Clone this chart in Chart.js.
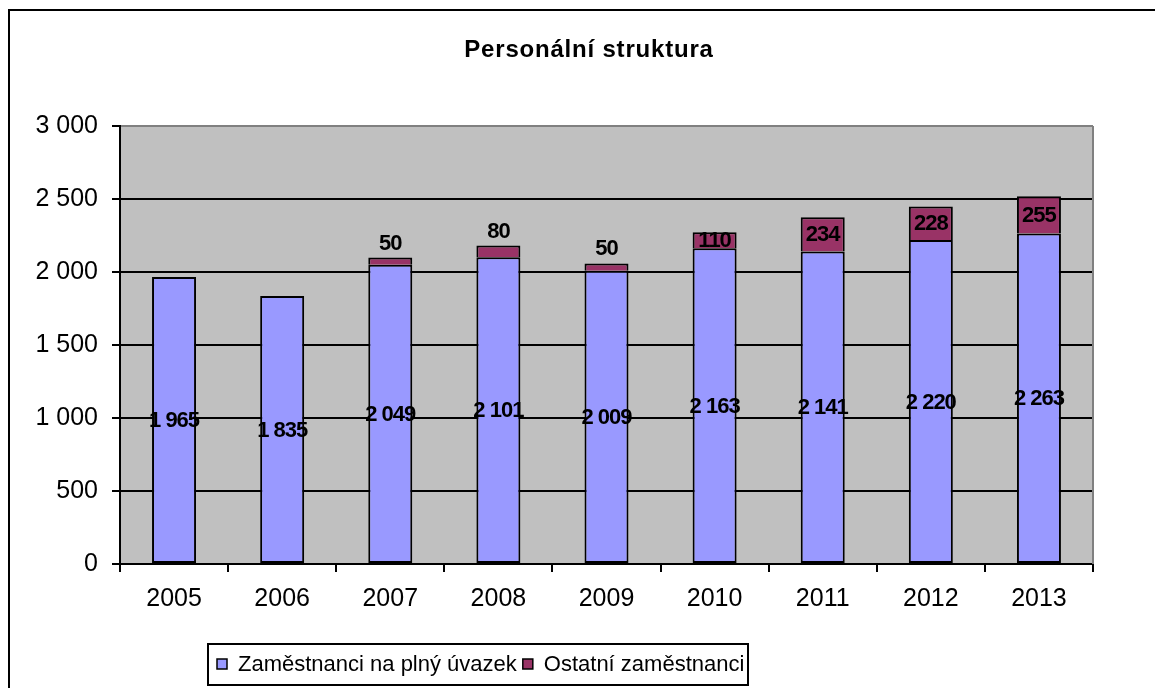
<!DOCTYPE html>
<html>
<head>
<meta charset="utf-8">
<title>Personální struktura</title>
<script src="https://cdn.jsdelivr.net/npm/chart.js@4"></script>
<style>
    body { margin: 0; background: #fff; }
    canvas { display: block; }
</style>
</head>
<body>
<canvas id="chart" width="1155" height="688"></canvas>
<script>
// data
const years = ['2005', '2006', '2007', '2008', '2009', '2010', '2011', '2012', '2013'];
const fullTime = [1965, 1835, 2049, 2101, 2009, 2163, 2141, 2220, 2263];
const others = [null, null, 50, 80, 50, 110, 234, 228, 255];
const seriesNames = ['Zaměstnanci na plný úvazek', 'Ostatní zaměstnanci'];
const yTicks = [0, 500, 1000, 1500, 2000, 2500, 3000];

const FONT = "'Liberation Sans', Arial, sans-serif";

// thousands with a space, like the Czech Excel format
function fmt(v) {
    return String(v).replace(/\B(?=(\d{3})+(?!\d))/g, ' ');
}

// white page, outer frame, grey plot area
const backdrop = {
    id: 'backdrop',
    beforeDraw(chart) {
        const { ctx, chartArea: a } = chart;
        ctx.save();
        ctx.fillStyle = '#fff';
        ctx.fillRect(0, 0, chart.width, chart.height);
        ctx.fillStyle = '#C0C0C0';
        ctx.fillRect(a.left, a.top, a.right - a.left, a.bottom - a.top);
        ctx.strokeStyle = '#000';
        ctx.lineWidth = 2;
        ctx.beginPath();
        ctx.moveTo(9, chart.height + 5);
        ctx.lineTo(9, 10);
        ctx.lineTo(chart.width + 5, 10);
        ctx.stroke();
        ctx.restore();
    },
    beforeDatasetsDraw(chart) {
        const { ctx, chartArea: a } = chart;
        ctx.save();
        ctx.strokeStyle = '#808080';
        ctx.lineWidth = 2;
        ctx.beginPath();
        ctx.moveTo(a.right, a.bottom);
        ctx.lineTo(a.right, a.top);
        ctx.stroke();
        ctx.restore();
    }
};

// title, value labels and the boxed legend at the bottom
const decorations = {
    id: 'decorations',
    afterDraw(chart) {
        const ctx = chart.ctx;
        ctx.save();

        // title
        ctx.fillStyle = '#000';
        ctx.font = 'bold 24px ' + FONT;
        ctx.letterSpacing = '0.8px';
        ctx.textAlign = 'center';
        ctx.textBaseline = 'middle';
        ctx.fillText('Personální struktura', 589, 50);

        // value labels
        ctx.font = 'bold 22px ' + FONT;
        ctx.letterSpacing = '-1px';
        chart.data.datasets.forEach((ds, i) => {
            chart.getDatasetMeta(i).data.forEach((bar, j) => {
                const v = ds.data[j];
                if (v == null) return;
                const h = Math.abs(bar.base - bar.y);
                let y = (bar.y + bar.base) / 2;
                if (h < 14) y = bar.y - 15;
                ctx.fillText(fmt(v), bar.x, y + 1);
            });
        });

        // legend
        ctx.letterSpacing = '0px';
        ctx.font = '22px ' + FONT;
        ctx.textAlign = 'left';
        ctx.lineWidth = 2;
        ctx.strokeStyle = '#000';
        ctx.strokeRect(208, 644, 540, 41);
        let x = 217;
        const cy = 664;
        chart.data.datasets.forEach((ds) => {
            ctx.fillStyle = ds.backgroundColor;
            ctx.fillRect(x, cy - 5, 10, 10);
            ctx.lineWidth = 1.5;
            ctx.strokeRect(x, cy - 5, 10, 10);
            ctx.fillStyle = '#000';
            ctx.fillText(ds.label, x + 21, cy + 1);
            x += 21 + ctx.measureText(ds.label).width + 6;
        });
        ctx.restore();
    }
};

new Chart(document.getElementById('chart'), {
    type: 'bar',
    data: {
        labels: years,
        datasets: [{
            label: seriesNames[0],
            data: fullTime,
            backgroundColor: '#9999FF',
            borderColor: '#000',
            borderWidth: 2,
            borderSkipped: false
        }, {
            label: seriesNames[1],
            data: others,
            backgroundColor: '#993366',
            borderColor: '#000',
            borderWidth: 2,
            borderSkipped: 'start'
        }]
    },
    options: {
        responsive: false,
        animation: false,
        devicePixelRatio: 1,
        layout: { padding: { left: 0, right: 62, top: 126, bottom: 0 } },
        datasets: { bar: { categoryPercentage: 1, barPercentage: 0.407 } },
        plugins: {
            legend: { display: false },
            title: { display: false },
            tooltip: { enabled: false }
        },
        scales: {
            x: {
                stacked: true,
                afterFit(scale) { scale.height = 124; },
                grid: {
                    offset: true,
                    drawOnChartArea: false,
                    tickLength: 8,
                    color: '#000',
                    lineWidth: 2
                },
                border: { color: '#000', width: 2 },
                ticks: {
                    color: '#000',
                    padding: 12,
                    font: { family: FONT, size: 25 }
                }
            },
            y: {
                stacked: true,
                min: yTicks[0],
                max: yTicks[yTicks.length - 1],
                afterFit(scale) { scale.width = 120; },
                afterBuildTicks(scale) {
                    scale.ticks = yTicks.map(v => ({ value: v }));
                },
                grid: {
                    tickLength: 8,
                    lineWidth: 2,
                    color: (c) => c.tick && c.tick.value === 3000 ? '#808080' : '#000',
                    tickColor: '#000'
                },
                border: { color: '#000', width: 2 },
                ticks: {
                    color: '#000',
                    padding: 14,
                    font: { family: FONT, size: 25 },
                    callback: (v) => fmt(v)
                }
            }
        }
    },
    plugins: [backdrop, decorations]
});
</script>
</body>
</html>
